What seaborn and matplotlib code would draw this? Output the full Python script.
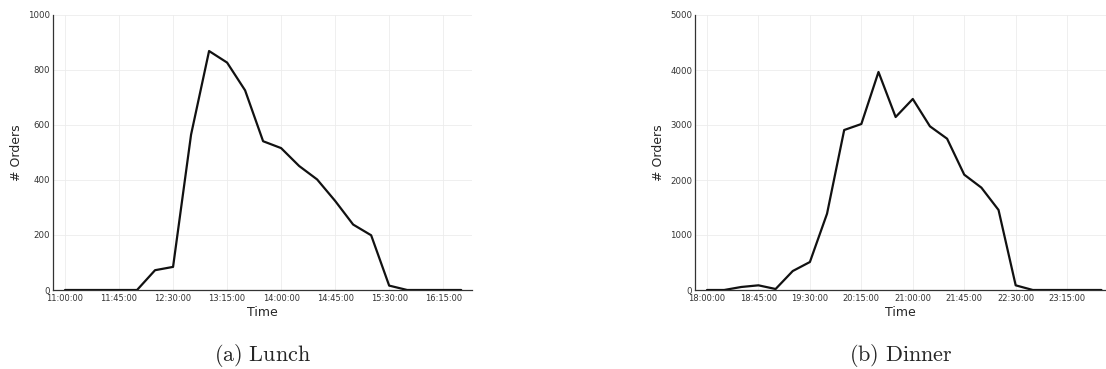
import numpy as np
import pandas as pd
import matplotlib
matplotlib.use("Agg")
import matplotlib.pyplot as plt
import seaborn as sns

# orders per 15 minute slot
lunch_times = ["11:00", "11:15", "11:30", "11:45", "12:00", "12:15", "12:30", "12:45",
               "13:00", "13:15", "13:30", "13:45", "14:00", "14:15", "14:30", "14:45",
               "15:00", "15:15", "15:30", "15:45", "16:00", "16:15", "16:30"]
lunch_orders = [0, 0, 0, 0, 0, 72, 84, 565,
                869, 827, 726, 541, 516, 451, 402, 324,
                238, 199, 16, 0, 0, 0, 0]

dinner_times = ["18:00", "18:15", "18:30", "18:45", "19:00", "19:15", "19:30", "19:45",
                "20:00", "20:15", "20:30", "20:45", "21:00", "21:15", "21:30", "21:45",
                "22:00", "22:15", "22:30", "22:45", "23:00", "23:15", "23:30", "23:45"]
dinner_orders = [0, 0, 55, 85, 18, 345, 509, 1388,
                 2909, 3018, 3964, 3145, 3473, 2976, 2751, 2097,
                 1861, 1455, 85, 0, 0, 0, 0, 0]

lunch_ticks = ["11:00:00", "11:45:00", "12:30:00", "13:15:00", "14:00:00",
               "14:45:00", "15:30:00", "16:15:00"]
dinner_ticks = ["18:00:00", "18:45:00", "19:30:00", "20:15:00", "21:00:00",
                "21:45:00", "22:30:00", "23:15:00"]


def to_min(t):
    p = t.split(":")
    return int(p[0]) * 60 + int(p[1])


sns.set_style("white")
plt.rcParams['font.family'] = ['DejaVu Sans']
plt.rcParams['mathtext.fontset'] = 'cm'

fig = plt.figure(figsize=(11.06, 3.69), dpi=100)
ax1 = fig.add_axes([53/1106, 1-290/369, (472-53)/1106, (290-15)/369])
ax2 = fig.add_axes([695/1106, 1-290/369, (1106-695)/1106, (290-15)/369])


def panel(ax, times, orders, ticks, ymax, ystep, xlim, caption):
    df = pd.DataFrame({"t": [to_min(t) for t in times], "n": orders})
    sns.lineplot(data=df, x="t", y="n", ax=ax, color="#111111", linewidth=1.6)
    tick_pos = [to_min(t) for t in ticks]
    ax.set_xticks(tick_pos)
    ax.set_xticklabels(ticks, fontsize=6, color="#333333")
    ax.set_yticks(np.arange(0, ymax + 1, ystep))
    ax.tick_params(axis="y", labelsize=6.2, labelcolor="#333333")
    ax.tick_params(axis="both", direction="in", length=3, color="#555555")
    ax.tick_params(axis="x", pad=3)
    ax.tick_params(axis="y", pad=2)
    ax.set_xlim(*xlim)
    ax.set_ylim(0, ymax)
    ax.grid(True, color="#ececec", linewidth=0.6)
    sns.despine(ax=ax)
    for s in ["left", "bottom"]:
        ax.spines[s].set_color("#333333")
        ax.spines[s].set_linewidth(0.9)
    ax.set_xlabel("Time", fontsize=9, labelpad=2)
    ax.set_ylabel("# Orders", fontsize=9, labelpad=4)
    ax.text(0.5, -0.19, caption, transform=ax.transAxes, ha="center", va="top",
            fontsize=16)


panel(ax1, lunch_times, lunch_orders, lunch_ticks, 1000, 200,
      (to_min("11:00") - 10, to_min("16:15") + 24), r"$\mathrm{(a)\ Lunch}$")
panel(ax2, dinner_times, dinner_orders, dinner_ticks, 5000, 1000,
      (to_min("18:00") - 10.5, to_min("23:15") + 34), r"$\mathrm{(b)\ Dinner}$")

fig.savefig("out.png", dpi=100)
